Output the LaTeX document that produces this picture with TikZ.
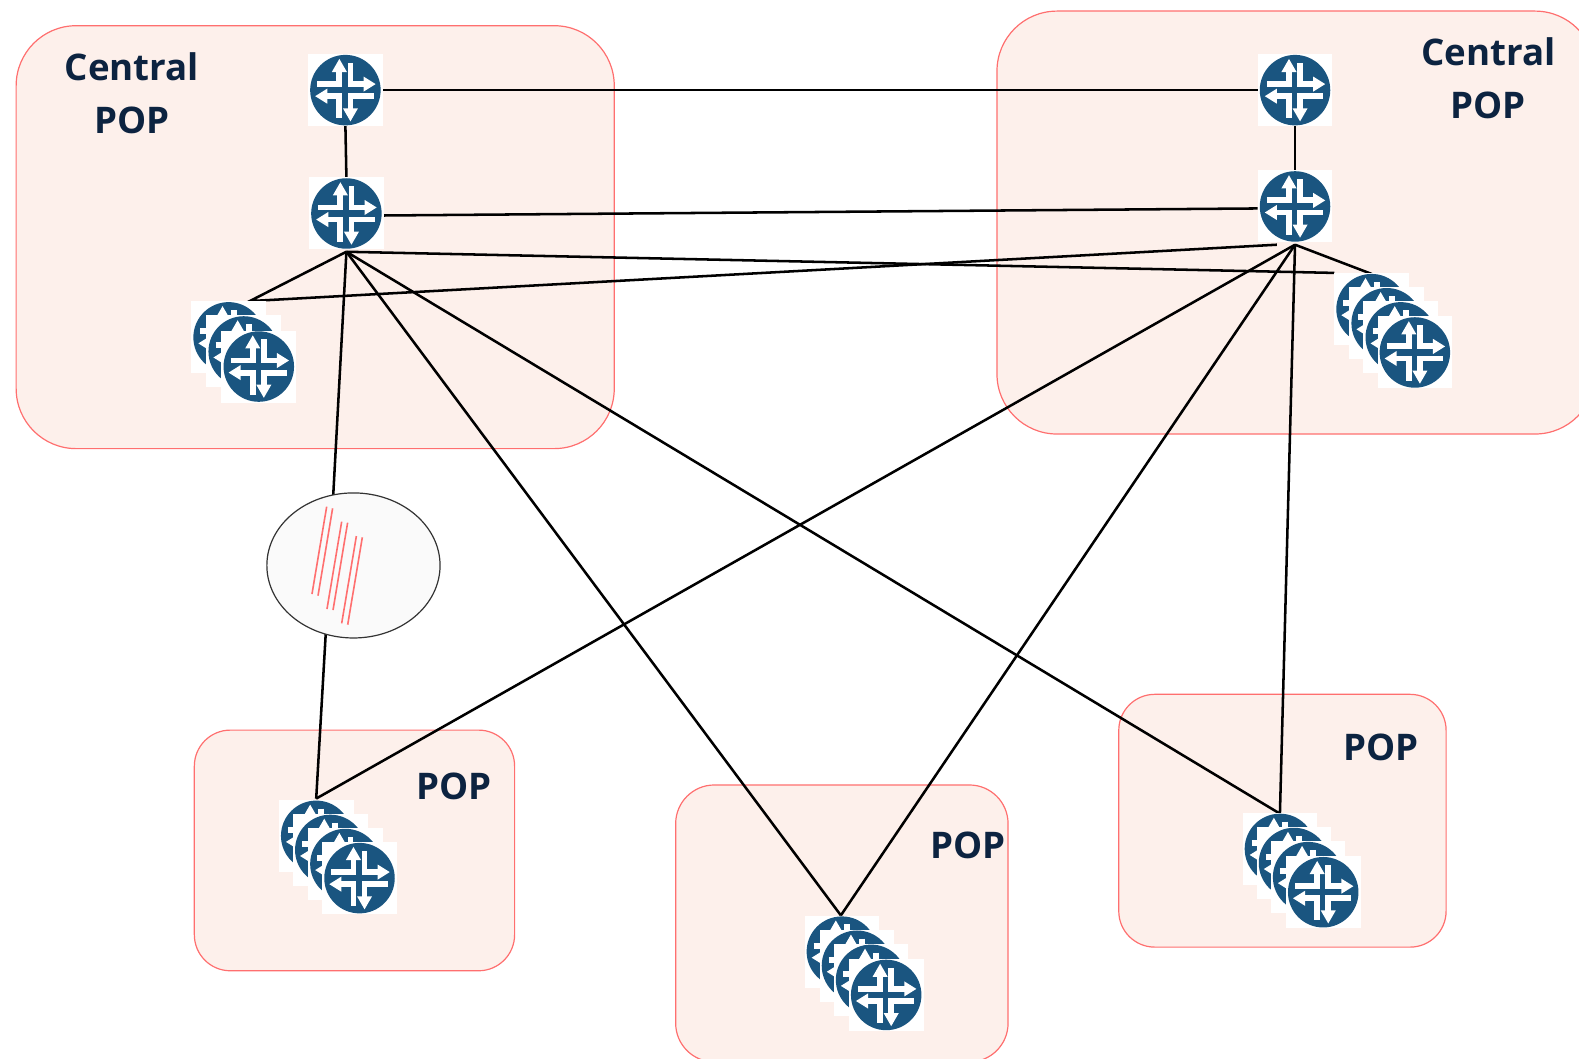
\documentclass[tikz,border=0pt]{standalone}
\usepackage{fontspec}
\usetikzlibrary{shapes.geometric}
\setmainfont{Open Sans}
\definecolor{jblue}{HTML}{1A5580}
\definecolor{popfill}{HTML}{FDF0EB}
\definecolor{popline}{HTML}{FF6F6F}
\definecolor{labelc}{HTML}{0C2340}
\pgfdeclarelayer{areas}
\pgfdeclarelayer{links}
\pgfsetlayers{areas,links,main}
\tikzset{
  popbox/.style={draw=popline,fill=popfill,line width=0.9pt,inner sep=0pt,outer sep=0pt},
  poplabel/.style={text=labelc,font=\fontsize{27.5}{27.5}\selectfont\bfseries,inner sep=0pt,align=center},
  routerbox/.style={fill=white,inner sep=0pt,outer sep=0pt,minimum width=56pt,minimum height=54pt},
  cloudshape/.style={draw=black!80,fill=black!2,line width=0.9pt,ellipse,inner sep=0pt,outer sep=0pt,minimum width=129.9pt,minimum height=108.8pt},
  link/.style={draw=black,line width=1.9pt},
  slash/.style={draw=popline,line width=1.2pt},
  routericon/.pic={
    \fill[jblue] (0,0) circle[radius=35];
    \draw[white,line width=4.4pt,line join=miter]
      (-28,-6) -- (-6,-6) -- (-6,-20)
      (5,-27) -- (5,-6) -- (20,-6)
      (-20,6) -- (-6,6) -- (-6,28)
      (5,20) -- (5,6) -- (28,6);
    \fill[white] (-6,-31) -- (-13.5,-18) -- (1.5,-18) -- cycle;
    \fill[white] (30,-6) -- (18,-13.5) -- (18,1.5) -- cycle;
    \fill[white] (-30,6) -- (-18,-1.5) -- (-18,13.5) -- cycle;
    \fill[white] (5,31) -- (-2.5,18) -- (12.5,18) -- cycle;
  }
}
\begin{document}
\begin{tikzpicture}[x=0.7553pt,y=-0.7553pt]
\useasboundingbox (0,0) rectangle (1568,1050.65);
\clip (0,0) rectangle (1568,1050.65);
% POP areas
\begin{pgfonlayer}{areas}
\node[popbox,minimum width=448.6pt,minimum height=317.2pt,rounded corners=45pt] (cpa) at (313,235.5) {};
\node[popbox,minimum width=448.6pt,minimum height=317.2pt,rounded corners=45pt] (cpb) at (1287,221) {};
\node[popbox,minimum width=240.2pt,minimum height=180.5pt,rounded corners=27pt] (pa) at (352,844.5) {};
\node[popbox,minimum width=249.3pt,minimum height=207.7pt,rounded corners=29pt] (pb) at (836,917) {};
\node[popbox,minimum width=245.5pt,minimum height=189.6pt,rounded corners=27pt] (pc) at (1273.5,815) {};
\end{pgfonlayer}
% routers
\node[routerbox] (a1) at (343,89.5) {};
\node[routerbox] (a2) at (344,212) {};
\node[routerbox] (b1) at (1286,89.5) {};
\node[routerbox] (b2) at (1286,205) {};
% cloud
\node[cloudshape] (cloud) at (351,561.5) {};
% free ends of links
\coordinate (fanA) at (344,250);
\coordinate (fanB) at (1286,243);
\coordinate (stackA) at (248,299);
\coordinate (stackAx) at (1268,243);
\coordinate (stackB) at (1362,272);
\coordinate (stackBx) at (1325,271);
\coordinate (stackP) at (314,793);
\coordinate (stackQ) at (835,909);
\coordinate (stackR) at (1271,808);
% links
\begin{pgfonlayer}{links}
\draw[link] (a1.east) -- (b1.west);
\draw[link] (a1.south) -- (a2.north);
\draw[link] (b1.south) -- (b2.north);
\draw[link] ([yshift=-1.5pt]a2.east) -- ([yshift=-1.5pt]b2.west);
\draw[link] (fanA) -- (stackA) -- (stackAx);
\draw[link] (fanA) -- (stackBx);
\draw[link] (fanA) -- (cloud.106);
\draw[link] (cloud.248) -- (stackP);
\draw[link] (fanA) -- (stackQ);
\draw[link] (fanA) -- (stackR);
\draw[link] (fanB) -- (stackB);
\draw[link] (fanB) -- (stackP);
\draw[link] (fanB) -- (stackQ);
\draw[link] (fanB) -- (stackR);
\end{pgfonlayer}
\draw[slash] (324.4,503.1) -- (309.8,589.9);
\draw[slash] (330.3,504.8) -- (315.8,591.5);
\draw[slash] (339.3,518) -- (324.7,604.8);
\draw[slash] (345.2,519) -- (330.7,605.8);
\draw[slash] (353.9,532.3) -- (339.3,619);
\draw[slash] (359.8,533.6) -- (345.3,620.3);
% router icons
\pic at (a1) {routericon};
\pic at (a2) {routericon};
\pic at (b1) {routericon};
\pic at (b2) {routericon};
\foreach \n/\x/\y in {
  sa1/227/335, sa2/242/349, sa3/257/364,
  sb1/1362/307, sb2/1377/321, sb3/1391/335, sb4/1405/350,
  sp1/314/830, sp2/328/844, sp3/343/858, sp4/357/872,
  sq1/836/945, sq2/851/959, sq3/865/973, sq4/880/988,
  sr1/1271/843, sr2/1285/857, sr3/1299/871, sr4/1314/886}{
  \node[routerbox] (\n) at (\x,\y) {};
  \pic at (\n) {routericon};
}
% labels
\node[poplabel] (la) at (131,92.5) {Central\\[12.5pt]POP};
\node[poplabel] (lb) at (1478,78) {Central\\[12pt]POP};
\node[poplabel] (lp) at (451,781) {POP};
\node[poplabel] (lq) at (961,839) {POP};
\node[poplabel] (lr) at (1371,742) {POP};
\end{tikzpicture}
\end{document}
